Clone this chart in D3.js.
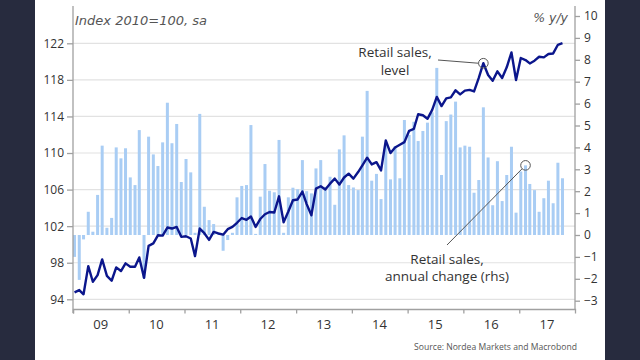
<!DOCTYPE html>
<html><head><meta charset="utf-8">
<script src="https://cdn.jsdelivr.net/npm/d3@7"></script>
<style>
html,body{margin:0;padding:0;background:#272b3e;}
svg{display:block;}
</style></head>
<body>
<svg id="c" width="640" height="360"></svg>
<script>
// ---- data ----
const yearLabels = ["09","10","11","12","13","14","15","16","17"];
const leftTicks = [94,98,102,106,110,114,118,122];
const rightTicks = [-3,-2,-1,0,1,2,3,4,5,6,7,8,9,10];
// Retail sales level, index 2010=100 (monthly, Jan 2009 - Oct 2017)
const levelValues = [
 94.76,95.01,94.55,97.63,95.92,96.65,98.36,96.57,96.03,97.49,97.09,97.93,
 97.56,97.56,98.58,96.36,99.85,100.11,101.0,100.96,101.85,101.74,101.92,100.83,
 100.9,100.65,98.72,101.74,101.23,100.5,101.37,101.2,101.07,101.67,101.92,102.37,
 102.89,102.7,103.05,101.92,102.78,103.3,103.55,103.49,105.26,102.43,103.6,104.83,
 104.92,105.78,104.41,103.19,106.1,106.36,106.01,106.65,107.2,106.55,107.32,107.74,
 107.2,107.92,108.65,109.49,108.75,109.0,108.1,111.37,109.99,110.61,110.91,111.19,
 112.43,112.65,114.24,114.13,113.74,114.72,116.14,115.13,115.98,116.09,116.86,116.41,
 116.82,116.91,116.74,118.21,119.82,118.54,117.91,118.93,118.21,119.37,121.0,117.99,
 120.39,120.17,119.8,120.1,120.53,120.46,120.83,120.89,121.84,122.03
];
// Retail sales, annual change % y/y (rhs)
const changeValues = [
 -1.0,-2.05,-0.2,1.06,0.15,1.83,4.08,0.33,0.78,4.0,3.5,3.96,
 2.63,2.28,4.79,-1.98,4.49,3.68,3.15,4.23,6.04,4.19,5.07,2.42,
 3.47,2.86,0.1,5.53,1.29,0.68,0.5,0.1,-0.72,-0.23,0.1,1.72,
 2.24,2.28,5.02,0.05,1.75,3.24,2.02,1.95,4.34,0.1,1.72,2.16,
 2.09,3.42,2.0,1.9,3.04,3.42,2.2,2.66,1.38,3.91,4.55,2.28,
 2.17,2.05,4.49,6.58,2.48,2.79,1.64,4.06,2.54,4.06,2.59,5.25,
 4.57,5.17,4.29,4.75,5.13,5.6,7.63,2.74,5.2,5.5,6.09,4.0,
 4.08,4.03,1.93,2.51,5.83,3.54,1.36,3.37,1.55,2.74,4.03,1.02,
 2.9,3.18,2.33,2.05,1.06,1.68,2.48,1.45,3.3,2.59
];
const months = d3.timeMonth.range(new Date(2009,0,1), new Date(2017,10,1));
const yearStarts = d3.timeYear.range(new Date(2009,0,1), new Date(2018,0,1));

// ---- layout ----
const svg = d3.select("#c");
svg.append("rect").attr("x",35).attr("y",0).attr("width",570).attr("height",360).attr("fill","#ffffff");

const x = d3.scaleTime().domain([new Date(2009,0,1), new Date(2018,0,1)]).range([73,575]);
const yL = d3.scaleLinear().domain([94,122]).range([299.3,43.3]);
const yR = d3.scaleLinear().domain([0,10]).range([235,16]);
const mx = d => x(d3.timeDay.offset(d,10));

// gridlines
svg.append("g").selectAll("line").data(leftTicks).join("line")
  .attr("x1",73).attr("x2",575).attr("y1",d=>yL(d)).attr("y2",d=>yL(d))
  .attr("stroke","#e2e2e2").attr("stroke-width",1.2);

// bars
svg.append("g").selectAll("rect").data(changeValues).join("rect")
  .attr("x",(d,i)=>mx(months[i])-1.5).attr("width",3)
  .attr("y",d=>Math.min(yR(d),yR(0))).attr("height",d=>Math.abs(yR(d)-yR(0)))
  .attr("fill","#a9cdf4");

// line
svg.append("path").datum(levelValues)
  .attr("d",d3.line().x((d,i)=>mx(months[i])).y(d=>yL(d)))
  .attr("fill","none").attr("stroke","#0b168c").attr("stroke-width",2.4)
  .attr("stroke-linejoin","round");

// axes
const axisColor = "#a0a0a0";
const tickFont = "'Open Sans', sans-serif";
const gl = svg.append("g").attr("transform","translate(73,0)")
  .call(d3.axisLeft(yL).tickValues(leftTicks).tickSize(6).tickPadding(3));
gl.select(".domain").remove();
svg.append("line").attr("x1",73).attr("x2",73).attr("y1",6).attr("y2",313).attr("stroke",axisColor).attr("stroke-width",1.3);

const gr = svg.append("g").attr("transform","translate(575,0)")
  .call(d3.axisRight(yR).tickValues(rightTicks).tickSize(5).tickPadding(4));
gr.select(".domain").remove();
svg.append("line").attr("x1",575).attr("x2",575).attr("y1",6).attr("y2",309).attr("stroke",axisColor).attr("stroke-width",1.3);

const gx = svg.append("g").attr("transform","translate(0,309)")
  .call(d3.axisBottom(x).tickValues(yearStarts).tickSize(4.5).tickFormat(""));
gx.select(".domain").attr("stroke",axisColor).attr("stroke-width",1.3);

[gl,gr,gx].forEach(g=>{
  g.selectAll(".tick line").attr("stroke",axisColor).attr("stroke-width",1.3);
  g.selectAll("text").attr("fill","#333").style("font-family",tickFont).style("font-size","12px");
});

svg.append("g").selectAll("text").data(yearLabels).join("text")
  .attr("x",(d,i)=>x(d3.timeMonth.offset(yearStarts[i],6)))
  .attr("y",329).attr("text-anchor","middle")
  .attr("fill","#333").style("font-family",tickFont).style("font-size","13px").text(d=>d);

// titles
svg.append("text").attr("x",75).attr("y",25).attr("fill","#555")
  .style("font-family","'DejaVu Sans', sans-serif").style("font-style","italic").style("font-size","13px")
  .text("Index 2010=100, sa");
svg.append("text").attr("x",568).attr("y",22).attr("text-anchor","end").attr("fill","#555")
  .style("font-family","'DejaVu Sans', sans-serif").style("font-style","italic").style("font-size","12.5px")
  .text("% y/y");
svg.append("text").attr("x",577).attr("y",350).attr("text-anchor","end").attr("fill","#555")
  .style("font-family",tickFont).style("font-size","8.6px")
  .text("Source: Nordea Markets and Macrobond");

// annotations
const annFont = "'Open Sans', sans-serif";
const i1 = 88, i2 = 97;
const c1 = [mx(months[i1]), yL(levelValues[i1])];
const c2 = [mx(months[i2]), yR(changeValues[i2])];
svg.append("line").attr("x1",438).attr("y1",60).attr("x2",c1[0]-5).attr("y2",c1[1])
  .attr("stroke","#555").attr("stroke-width",1);
svg.append("circle").attr("cx",c1[0]).attr("cy",c1[1]).attr("r",4.8)
  .attr("fill","none").attr("stroke","#555").attr("stroke-width",1);
svg.append("line").attr("x1",447).attr("y1",245).attr("x2",c2[0]-3.5).attr("y2",c2[1]+3.5)
  .attr("stroke","#555").attr("stroke-width",1);
svg.append("circle").attr("cx",c2[0]).attr("cy",c2[1]).attr("r",4.8)
  .attr("fill","none").attr("stroke","#555").attr("stroke-width",1);

const t1 = svg.append("text").attr("text-anchor","middle").attr("fill","#333")
  .style("font-family",annFont).style("font-size","13.5px");
t1.append("tspan").attr("x",395).attr("y",57).text("Retail sales,");
t1.append("tspan").attr("x",395).attr("y",75).text("level");
const t2 = svg.append("text").attr("text-anchor","middle").attr("fill","#333")
  .style("font-family",annFont).style("font-size","13.5px");
t2.append("tspan").attr("x",447).attr("y",264).text("Retail sales,");
t2.append("tspan").attr("x",447).attr("y",281).text("annual change (rhs)");
</script>
</body></html>
